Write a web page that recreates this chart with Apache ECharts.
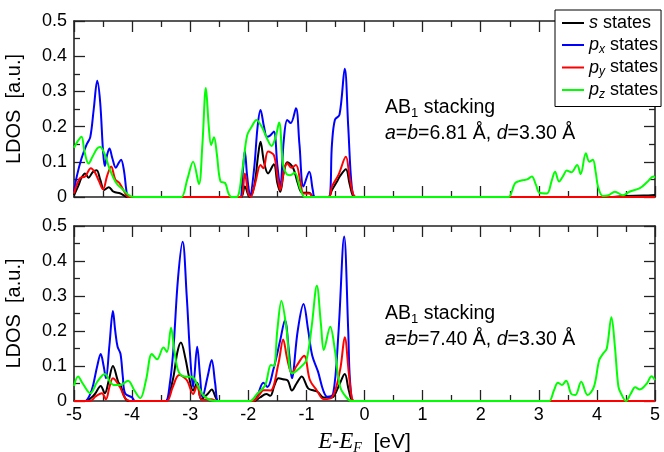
<!DOCTYPE html>
<html><head><meta charset="utf-8">
<script src="https://cdn.jsdelivr.net/npm/echarts@6/dist/echarts.min.js"></script>
<style>html,body{margin:0;padding:0;background:#fff}#c{width:664px;height:452px}</style>
</head><body><div id="c"></div>
<script>
// ---- data: [E - E_F (eV), LDOS (a.u.)] ----
const seriesNames = ['s states', 'px states', 'py states', 'pz states'];
const xTicks = [-5, -4, -3, -2, -1, 0, 1, 2, 3, 4, 5];
const yTicks = [0, 0.1, 0.2, 0.3, 0.4, 0.5];
const panelLabels = ['a=b=6.81 Å, d=3.30 Å', 'a=b=7.40 Å, d=3.30 Å'];

// Top panel (a=b=6.81 Å)
const top_s = [[-5,0.005],[-4.93,0.03],[-4.87,0.055],[-4.81,0.067],[-4.75,0.055],[-4.68,0.07],[-4.61,0.076],[-4.55,0.05],[-4.48,0.02],[-4.4,0.028],[-4.32,0.015],[-4.2,0.01],[-4.08,0],[-4.0,0],[-2.2,0],[-2.12,0],[-2.06,0.03],[-1.98,0],[-1.9,0.03],[-1.83,0.12],[-1.79,0.157],[-1.73,0.1],[-1.66,0.067],[-1.56,0.093],[-1.5,0.04],[-1.45,0.015],[-1.39,0.07],[-1.33,0.099],[-1.23,0.083],[-1.15,0.04],[-1.07,0.012],[-0.95,0.012],[-0.88,0],[-0.62,0],[-0.56,0.02],[-0.47,0.045],[-0.42,0.06],[-0.32,0.079],[-0.26,0.04],[-0.2,0.003],[-0.15,0],[-0.07,0],[4.1,0],[4.2,0],[4.5,0.003],[4.8,0.004],[5,0.006]];
const top_px = [[-5,0.015],[-4.95,0.06],[-4.87,0.11],[-4.78,0.15],[-4.72,0.17],[-4.66,0.25],[-4.6,0.33],[-4.55,0.27],[-4.5,0.13],[-4.47,0.088],[-4.43,0.12],[-4.39,0.138],[-4.34,0.11],[-4.28,0.083],[-4.23,0.097],[-4.19,0.106],[-4.14,0.075],[-4.1,0.02],[-4.07,0],[-4.0,0],[-2.2,0],[-2.14,0],[-2.09,0.08],[-2.06,0.131],[-2.02,0.06],[-1.97,0.005],[-1.9,0.08],[-1.84,0.2],[-1.79,0.247],[-1.73,0.2],[-1.68,0.171],[-1.62,0.175],[-1.56,0.186],[-1.5,0.09],[-1.45,0.029],[-1.39,0.16],[-1.33,0.219],[-1.27,0.21],[-1.18,0.252],[-1.12,0.15],[-1.05,0.03],[-0.95,0.072],[-0.89,0.02],[-0.85,0],[-0.62,0],[-0.56,0.15],[-0.51,0.219],[-0.43,0.234],[-0.34,0.364],[-0.28,0.2],[-0.22,0.03],[-0.16,0],[-0.08,0],[4.9,0],[5,0]];
const top_py = [[-5,0.01],[-4.9,0.053],[-4.81,0.058],[-4.71,0.082],[-4.64,0.07],[-4.57,0.045],[-4.5,0.022],[-4.43,0.06],[-4.36,0.087],[-4.29,0.05],[-4.22,0.04],[-4.15,0.02],[-4.06,0],[-4.0,0],[-2.2,0],[-2.12,0],[-2.06,0.067],[-2.0,0.01],[-1.96,0],[-1.88,0.04],[-1.79,0.091],[-1.74,0.082],[-1.66,0.129],[-1.56,0.119],[-1.5,0.06],[-1.45,0.02],[-1.39,0.07],[-1.33,0.096],[-1.26,0.083],[-1.18,0.091],[-1.1,0.04],[-1.05,0.01],[-0.95,0.01],[-0.88,0],[-0.62,0],[-0.56,0.03],[-0.45,0.062],[-0.32,0.114],[-0.26,0.06],[-0.2,0.01],[-0.15,0],[-0.08,0],[4.9,0],[5,0]];
const top_pz = [[-5,0.14],[-4.93,0.16],[-4.87,0.171],[-4.82,0.13],[-4.75,0.095],[-4.68,0.115],[-4.6,0.138],[-4.55,0.142],[-4.48,0.125],[-4.38,0.077],[-4.27,0.039],[-4.15,0.02],[-4.04,0.003],[-3.95,0],[-3.87,0],[-3.23,0],[-3.15,0],[-3.05,0.05],[-2.95,0.1],[-2.85,0.037],[-2.79,0.15],[-2.73,0.31],[-2.68,0.2],[-2.64,0.148],[-2.59,0.17],[-2.54,0.12],[-2.48,0.045],[-2.4,0.04],[-2.34,0.01],[-2.29,0],[-2.2,0],[-2.1,0.08],[-2.02,0.175],[-1.94,0.2],[-1.86,0.219],[-1.77,0.2],[-1.68,0.167],[-1.6,0.145],[-1.53,0.17],[-1.47,0.212],[-1.4,0.09],[-1.34,0.065],[-1.28,0.062],[-1.2,0.069],[-1.11,0.025],[-1.03,0],[-0.95,0],[2.4,0],[2.48,0],[2.59,0.039],[2.66,0.045],[2.73,0.048],[2.8,0.05],[2.88,0.058],[2.95,0.035],[3.01,0.012],[3.14,0.01],[3.22,0.045],[3.28,0.072],[3.35,0.044],[3.42,0.06],[3.48,0.075],[3.56,0.07],[3.66,0.091],[3.72,0.065],[3.81,0.124],[3.87,0.1],[3.93,0.106],[3.98,0.07],[4.02,0.029],[4.1,0.003],[4.2,0.005],[4.31,0.015],[4.45,0.005],[4.56,0.015],[4.74,0.025],[4.88,0.045],[4.97,0.058],[5,0.055]];

// Bottom panel (a=b=7.40 Å)
const bot_s = [[-5,0],[-4.8,0],[-4.7,0.01],[-4.64,0.02],[-4.54,0.043],[-4.47,0.022],[-4.4,0.06],[-4.33,0.1],[-4.24,0.055],[-4.2,0.045],[-4.12,0.008],[-4.05,0],[-3.97,0],[-3.5,0],[-3.42,0],[-3.3,0.06],[-3.22,0.14],[-3.16,0.167],[-3.08,0.12],[-3.03,0.077],[-2.95,0.03],[-2.88,0.052],[-2.81,0.005],[-2.7,0.02],[-2.63,0.033],[-2.56,0.01],[-2.52,0],[-2.44,0],[-1.98,0],[-1.9,0],[-1.8,0.01],[-1.69,0.02],[-1.62,0.015],[-1.55,0.045],[-1.48,0.065],[-1.4,0.062],[-1.32,0.058],[-1.25,0.03],[-1.17,0.05],[-1.08,0.07],[-0.97,0.036],[-0.87,0.03],[-0.8,0.025],[-0.7,0.01],[-0.56,0.01],[-0.45,0.04],[-0.34,0.077],[-0.27,0.03],[-0.2,0],[-0.12,0],[5,0]];
const bot_px = [[-5,0],[-4.81,0],[-4.72,0.02],[-4.67,0.046],[-4.6,0.1],[-4.54,0.134],[-4.49,0.1],[-4.45,0.065],[-4.39,0.16],[-4.33,0.257],[-4.29,0.2],[-4.25,0.155],[-4.2,0.135],[-4.16,0.07],[-4.12,0.022],[-4.0,0.01],[-3.95,0],[-3.87,0],[-3.5,0],[-3.42,0],[-3.35,0.05],[-3.29,0.146],[-3.21,0.35],[-3.13,0.455],[-3.06,0.3],[-3.0,0.127],[-2.95,0.04],[-2.88,0.155],[-2.83,0.07],[-2.79,0.01],[-2.7,0.07],[-2.63,0.117],[-2.57,0.05],[-2.52,0],[-2.44,0],[-2.03,0],[-1.95,0],[-1.86,0.009],[-1.74,0.052],[-1.67,0.04],[-1.57,0.089],[-1.45,0.174],[-1.37,0.231],[-1.3,0.14],[-1.25,0.065],[-1.15,0.2],[-1.05,0.277],[-0.97,0.203],[-0.9,0.13],[-0.8,0.084],[-0.71,0.03],[-0.64,0.012],[-0.54,0.02],[-0.45,0.19],[-0.35,0.47],[-0.28,0.2],[-0.25,0.06],[-0.19,0],[-0.11,0],[5,0]];
const bot_py = [[-5,0],[-4.72,0],[-4.63,0.013],[-4.52,0.022],[-4.45,0.005],[-4.39,0.04],[-4.33,0.065],[-4.21,0.04],[-4.12,0.008],[-4.04,0],[-3.96,0],[-3.48,0],[-3.4,0],[-3.3,0.04],[-3.19,0.074],[-3.06,0.06],[-2.95,0.02],[-2.88,0.045],[-2.8,0.003],[-2.63,0.005],[-2.55,0],[-2.47,0],[-2.0,0],[-1.92,0],[-1.8,0.02],[-1.74,0.031],[-1.62,0.03],[-1.48,0.108],[-1.4,0.176],[-1.33,0.12],[-1.25,0.079],[-1.17,0.1],[-1.04,0.129],[-0.94,0.06],[-0.82,0.03],[-0.7,0.005],[-0.56,0.01],[-0.42,0.089],[-0.34,0.182],[-0.27,0.08],[-0.22,0.01],[-0.18,0],[-0.1,0],[5,0]];
const bot_pz = [[-5,0.043],[-4.93,0.07],[-4.85,0.05],[-4.72,0.022],[-4.6,0.055],[-4.47,0.077],[-4.38,0.055],[-4.32,0.046],[-4.2,0.046],[-4.07,0.058],[-3.96,0.03],[-3.86,0.008],[-3.76,0.06],[-3.66,0.134],[-3.57,0.119],[-3.46,0.153],[-3.4,0.14],[-3.33,0.209],[-3.27,0.14],[-3.2,0.084],[-3.1,0.07],[-2.97,0.069],[-2.86,0.041],[-2.77,0.015],[-2.66,0.003],[-2.55,0],[-2.47,0],[-2.05,0],[-1.97,0],[-1.85,0.02],[-1.71,0.045],[-1.61,0.103],[-1.56,0.1],[-1.5,0.203],[-1.43,0.286],[-1.34,0.203],[-1.25,0.079],[-1.11,0.095],[-1.0,0.117],[-0.91,0.212],[-0.82,0.329],[-0.75,0.22],[-0.7,0.146],[-0.59,0.212],[-0.51,0.146],[-0.42,0.041],[-0.31,0.01],[-0.22,0],[-0.14,0],[3.1,0],[3.18,0],[3.26,0.03],[3.33,0.052],[3.4,0.046],[3.47,0.058],[3.56,0.02],[3.63,0.017],[3.73,0.055],[3.84,0.017],[3.95,0.041],[4.04,0.117],[4.11,0.136],[4.17,0.15],[4.25,0.239],[4.31,0.155],[4.37,0.041],[4.42,0.02],[4.5,0],[4.58,0.02],[4.66,0.039],[4.74,0.033],[4.86,0.05],[4.94,0.071],[5,0.06]];

const colors = ['#000000', '#0000ff', '#ff0000', '#00ff00'];
const topData = [top_s, top_px, top_py, top_pz];
const botData = [bot_s, bot_px, bot_py, bot_pz];

const FONT = "'Liberation Sans', Arial, Helvetica, sans-serif";
const SERIF = "'Liberation Serif', 'Times New Roman', serif";
const AX = '#222';

function xAx(gi, pos, showLabel) {
  const a = {
    type: 'value', gridIndex: gi, position: pos, min: -5, max: 5, interval: 1,
    axisLine: {show: true, onZero: false, lineStyle: {color: AX, width: 1.6}},
    axisTick: {show: true, inside: true, length: 11, lineStyle: {color: AX, width: 1.3}},
    minorTick: {show: true, splitNumber: 2, length: 6, lineStyle: {color: AX, width: 1.3}},
    splitLine: {show: false}, minorSplitLine: {show: false},
    axisLabel: {show: showLabel, color: '#000', fontSize: 18, fontFamily: FONT, margin: 5,
      formatter: v => String(v)}
  };
  if (showLabel) {
    a.name = '{e|E}{n|-}{e|E}{sub|F}{n|  [eV]}';
    a.nameLocation = 'middle';
    a.nameGap = 28;
    a.nameTextStyle = {color: '#000', fontSize: 21, fontFamily: FONT,
      rich: {
        e: {fontFamily: SERIF, fontStyle: 'italic', fontSize: 23, color: '#000'},
        n: {fontFamily: FONT, fontSize: 21, color: '#000'},
        sub: {fontFamily: SERIF, fontStyle: 'italic', fontSize: 14, color: '#000', padding: [12, 0, 0, 0]}
      }};
  }
  return a;
}
function yAx(gi, pos, showLabel) {
  const a = {
    type: 'value', gridIndex: gi, position: pos, min: 0, max: 0.5, interval: 0.1,
    axisLine: {show: true, onZero: false, lineStyle: {color: AX, width: 1.6}},
    axisTick: {show: true, inside: true, length: 11, lineStyle: {color: AX, width: 1.3}},
    minorTick: {show: true, splitNumber: 2, length: 6, lineStyle: {color: AX, width: 1.3}},
    splitLine: {show: false}, minorSplitLine: {show: false},
    axisLabel: {show: showLabel, color: '#000', fontSize: 18, fontFamily: FONT, margin: 7,
      formatter: v => (v === 0 ? '0' : v.toFixed(1))}
  };
  if (showLabel) {
    a.name = 'LDOS  [a.u.]';
    a.nameLocation = 'middle';
    a.nameRotate = 90;
    a.nameGap = 50;
    a.nameTextStyle = {color: '#000', fontSize: 20, fontFamily: FONT};
  }
  return a;
}

const series = [];
[[topData, 0], [botData, 2]].forEach(([arr, ax]) => {
  seriesNames.forEach((nm, i) => {
    series.push({name: nm, type: 'line', xAxisIndex: ax, yAxisIndex: ax, data: arr[i],
      showSymbol: false, smooth: 0.35, clip: true,
      lineStyle: {color: colors[i], width: 2}, itemStyle: {color: colors[i]}, z: 2 + i});
  });
});

const legendLabels = {
  's states': '{i|s}{n| states}',
  'px states': '{i|p}{sub|x}{n| states}',
  'py states': '{i|p}{sub|y}{n| states}',
  'pz states': '{i|p}{sub|z}{n| states}'
};

const richTxt = {
  n: {fontFamily: FONT, fontSize: 19.5, color: '#000'},
  i: {fontFamily: FONT, fontStyle: 'italic', fontSize: 19.5, color: '#000'},
  s: {fontFamily: FONT, fontSize: 13, color: '#000', padding: [11, 0, 0, 0]}
};

function annot(y, label) {
  const parts = label.split(/(a|b|d)(?==)/);
  let t = '';
  parts.forEach(p => { if (p === 'a' || p === 'b' || p === 'd') t += '{i|' + p + '}'; else if (p) t += '{n|' + p + '}'; });
  return [
    {type: 'text', x: 385, y: y, z: 50, style: {text: '{n|AB}{s|1}{n| stacking}', rich: richTxt, verticalAlign: 'middle'}},
    {type: 'text', x: 385, y: y + 26, z: 50, style: {text: t, rich: richTxt, verticalAlign: 'middle'}}
  ];
}

const option = {
  animation: false,
  backgroundColor: '#fff',
  grid: [
    {left: 74, top: 21, width: 581, height: 176, containLabel: false, outerBoundsMode: 'none'},
    {left: 74, top: 226, width: 581, height: 175, containLabel: false, outerBoundsMode: 'none'}
  ],
  xAxis: [xAx(0, 'bottom', false), xAx(0, 'top', false), xAx(1, 'bottom', true), xAx(1, 'top', false)],
  yAxis: [yAx(0, 'left', true), yAx(0, 'right', false), yAx(1, 'left', true), yAx(1, 'right', false)],
  legend: {
    data: seriesNames, orient: 'vertical', left: 555, top: 10, z: 20,
    backgroundColor: '#fff', borderColor: '#000', borderWidth: 1, borderRadius: 0,
    padding: [3, 3, 6, 7], itemGap: 2, itemWidth: 22, itemHeight: 2, icon: 'rect',
    selectedMode: false,
    formatter: nm => legendLabels[nm],
    textStyle: {fontSize: 18, fontFamily: FONT, color: '#000', lineHeight: 20,
      rich: {
        n: {fontSize: 18, fontFamily: FONT, color: '#000', lineHeight: 20},
        i: {fontSize: 18, fontFamily: FONT, fontStyle: 'italic', color: '#000', lineHeight: 20},
        sub: {fontSize: 12, fontFamily: FONT, fontStyle: 'italic', color: '#000', padding: [9, 0, 0, 0]}
      }}
  },
  graphic: annot(108, panelLabels[0]).concat(annot(314, panelLabels[1])),
  series: series
};

const chart = echarts.init(document.getElementById('c'), null, {renderer: 'canvas'});
chart.setOption(option);
</script>
</body></html>
